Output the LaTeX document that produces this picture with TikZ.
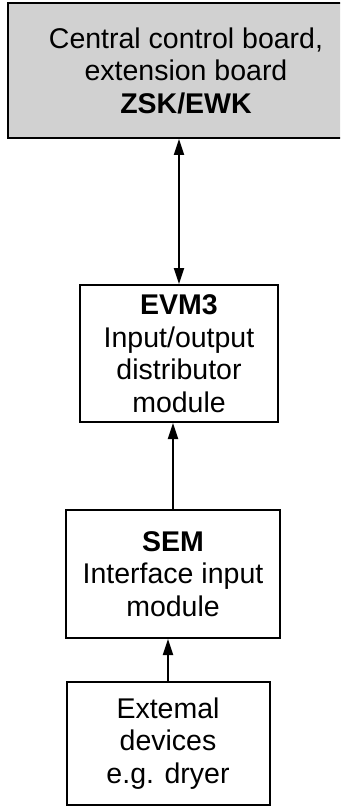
\documentclass[tikz,border=0pt]{standalone}
\usepackage{fontspec}
\setmainfont{Liberation Sans}
\usetikzlibrary{arrows.meta}
\begin{document}
\begin{tikzpicture}[x=1pt,y=-1pt,
  box/.style={draw=black,line width=2pt,align=center,inner sep=0pt,
    font=\fontsize{28.5}{32.5}\selectfont},
  tip/.tip={Triangle[length=16pt,width=10pt]},
  conn/.style={line width=2pt,tip-},
  biconn/.style={line width=2pt,tip-tip}]
\useasboundingbox (0,0) rectangle (340,810);
\clip (0,0) rectangle (340,810);
\fill[white] (0,0) rectangle (340,810);
\node[box,fill=black!18,minimum width=356pt,minimum height=135pt] (zsk) at (186,70.5)
  {Central control board,\\extension board\\\textbf{ZSK/EWK}};
\node[box,minimum width=198pt,minimum height=137pt] (evm) at (179,353.5)
  {\textbf{EVM3}\\Input/output\\distributor\\module};
\node[box,minimum width=214pt,minimum height=128pt] (sem) at (173,574)
  {\textbf{SEM}\\Interface input\\module};
\node[box,minimum width=203pt,minimum height=123pt] (ext) at (168,743.5)
  {Extemal\\devices\\e.g. dryer};
\draw[biconn] (zsk.south -| evm.north) -- (evm.north);
\draw[conn] (evm.south -| sem.north) -- (sem.north);
\draw[conn] (sem.south -| ext.north) -- (ext.north);
\end{tikzpicture}
\end{document}
